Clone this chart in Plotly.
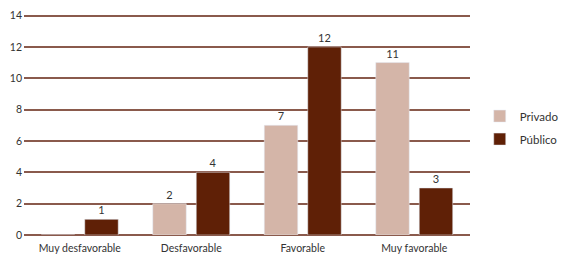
import plotly.graph_objects as go

categories = ["Muy desfavorable", "Desfavorable", "Favorable", "Muy favorable"]
privado = [0, 2, 7, 11]
publico = [1, 4, 12, 3]
y_ticks = [0, 2, 4, 6, 8, 10, 12, 14]

def labels(vals):
    return [str(v) if v else "" for v in vals]

FONT = "Lato"
fig = go.Figure()
fig.add_trace(go.Bar(name="Privado", x=categories, y=privado, marker_color="#d4b5a8",
                     legendgroup="a",
                     text=labels(privado), textposition="outside", cliponaxis=False,
                     textfont=dict(size=11, color="#333333")))
fig.add_trace(go.Bar(name="Público", x=categories, y=publico, marker_color="#5f2006",
                     legendgroup="b",
                     text=labels(publico), textposition="outside", cliponaxis=False,
                     textfont=dict(size=11, color="#333333")))

fig.update_layout(
    width=567, height=264,
    margin=dict(l=16, r=105, t=6, b=37),
    paper_bgcolor="white", plot_bgcolor="white",
    barmode="group", bargap=0.22, bargroupgap=0.23,
    font=dict(family=FONT, size=11, color="#333333"),
    showlegend=True,
    legend=dict(xref="container", yref="container", x=0.832, y=0.547,
                xanchor="left", yanchor="middle",
                font=dict(size=11.5, color="#333333"), tracegroupgap=4,
                itemwidth=30),
    xaxis=dict(showgrid=False, showline=False, ticks="", tickfont=dict(size=10.5),
               ticklabelstandoff=5, automargin=False),
    yaxis=dict(range=[0, 14.1], tickvals=y_ticks, showgrid=True, gridcolor="#8a5a4c",
               gridwidth=1.5, zeroline=True, zerolinecolor="#8a5a4c", zerolinewidth=1.5,
               showline=False, ticks="", tickfont=dict(size=10.5), ticklabelstandoff=1,
               automargin=False),
)

fig.write_html("out.html")
